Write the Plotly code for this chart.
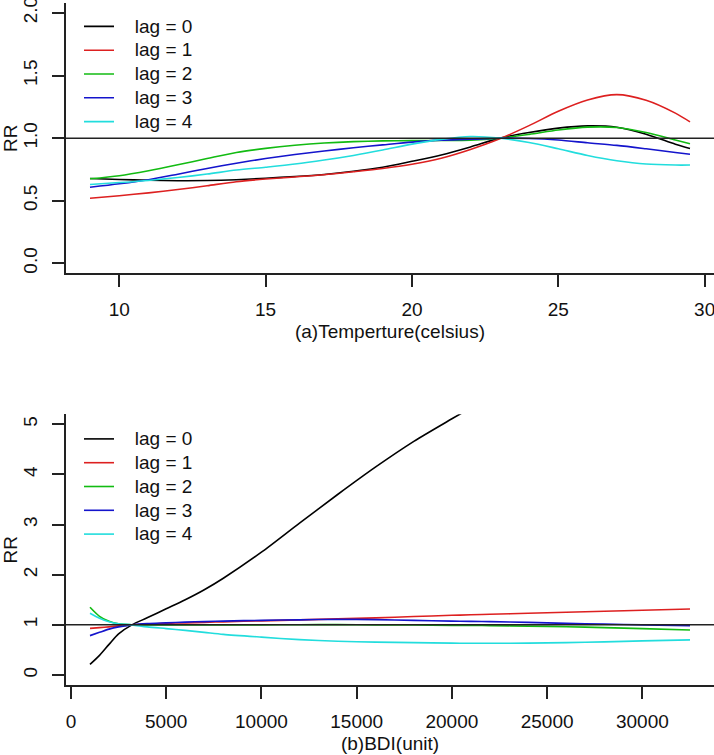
import plotly.graph_objects as go
from plotly.subplots import make_subplots

# ---------------- data ----------------
lag_names = ["lag = 0", "lag = 1", "lag = 2", "lag = 3", "lag = 4"]
lag_colors = ["#000000", "#DD2020", "#12BB12", "#1414CC", "#22DDDD"]

temp = [9, 10, 11, 12, 13, 14, 15, 16, 17, 18, 19, 20, 21, 22, 23, 24, 25, 26, 27, 28, 29, 29.5]
temp_lag0 = [0.678, 0.670, 0.664, 0.660, 0.661, 0.668, 0.680, 0.693, 0.710, 0.735, 0.767, 0.815,
             0.866, 0.930, 1.0, 1.045, 1.080, 1.098, 1.087, 1.032, 0.952, 0.918]
temp_lag1 = [0.520, 0.540, 0.563, 0.589, 0.620, 0.652, 0.673, 0.690, 0.708, 0.732, 0.758, 0.792,
             0.840, 0.910, 0.995, 1.100, 1.215, 1.305, 1.348, 1.303, 1.200, 1.130]
temp_lag2 = [0.675, 0.700, 0.740, 0.787, 0.837, 0.885, 0.918, 0.943, 0.961, 0.972, 0.978, 0.980,
             0.981, 0.984, 1.0, 1.030, 1.065, 1.088, 1.085, 1.045, 0.985, 0.955]
temp_lag3 = [0.607, 0.635, 0.668, 0.712, 0.758, 0.800, 0.837, 0.869, 0.897, 0.923, 0.946, 0.968,
             0.984, 0.991, 1.0, 0.997, 0.985, 0.963, 0.942, 0.915, 0.886, 0.872]
temp_lag4 = [0.630, 0.645, 0.662, 0.685, 0.713, 0.745, 0.768, 0.793, 0.825, 0.862, 0.905, 0.952,
             0.990, 1.013, 1.0, 0.965, 0.915, 0.862, 0.820, 0.793, 0.785, 0.785]

bdi = [1000, 1500, 2000, 2500, 3200, 4000, 5000, 6000, 7000, 8000, 10000, 12000, 14000, 16000,
       18000, 20000, 21000, 22000, 24000, 26000, 28000, 30000, 32500]
bdi_lag0 = [0.21, 0.39, 0.61, 0.82, 1.0, 1.14, 1.32, 1.50, 1.70, 1.93, 2.45, 3.03, 3.60, 4.15,
            4.66, 5.11, 5.33, None, None, None, None, None, None]
bdi_lag1 = [0.93, 0.945, 0.96, 0.98, 1.0, 1.015, 1.03, 1.04, 1.05, 1.06, 1.08, 1.10, 1.12, 1.14,
            1.165, 1.19, 1.20, 1.21, 1.23, 1.25, 1.27, 1.29, 1.317]
bdi_lag2 = [1.35, 1.17, 1.07, 1.02, 1.0, 1.0, 1.0, 1.0, 1.0, 1.0, 1.0, 1.003, 1.004, 1.0,
            0.996, 0.99, 0.988, 0.985, 0.975, 0.962, 0.945, 0.925, 0.898]
bdi_lag3 = [0.785, 0.85, 0.915, 0.96, 1.0, 1.025, 1.04, 1.055, 1.065, 1.075, 1.09, 1.10, 1.11, 1.105,
            1.09, 1.075, 1.07, 1.065, 1.05, 1.03, 1.015, 1.0, 0.985]
bdi_lag4 = [1.23, 1.13, 1.06, 1.02, 1.0, 0.96, 0.925, 0.89, 0.85, 0.81, 0.755, 0.705, 0.672, 0.655,
            0.645, 0.635, 0.633, 0.632, 0.635, 0.645, 0.66, 0.68, 0.70]

temp_ticks = [10, 15, 20, 25, 30]
temp_rr_ticks = [0.0, 0.5, 1.0, 1.5, 2.0]
bdi_ticks = [0, 5000, 10000, 15000, 20000, 25000, 30000]
bdi_rr_ticks = [0, 1, 2, 3, 4, 5]

FONT = "Liberation Sans, Arial, sans-serif"
FS = 19
INK = "#111111"


def legend_label(name):
    # larger visible text while keeping R-like compact row spacing
    return '<span style="font-size:%dpx">&nbsp;&nbsp;&nbsp;%s</span>' % (FS, name)


fig = make_subplots(rows=2, cols=1, vertical_spacing=0.2)

temp_series = [temp_lag0, temp_lag1, temp_lag2, temp_lag3, temp_lag4]
bdi_series = [bdi_lag0, bdi_lag1, bdi_lag2, bdi_lag3, bdi_lag4]

for name, col, ys in zip(lag_names, lag_colors, temp_series):
    fig.add_trace(go.Scatter(x=temp, y=ys, mode="lines", name=legend_label(name),
                             legend="legend",
                             line=dict(color=col, width=1.6, shape="spline", smoothing=0.8)),
                  row=1, col=1)
for name, col, ys in zip(lag_names, lag_colors, bdi_series):
    fig.add_trace(go.Scatter(x=bdi, y=ys, mode="lines", name=legend_label(name),
                             legend="legend2", connectgaps=False,
                             line=dict(color=col, width=1.6, shape="spline", smoothing=0.8)),
                  row=2, col=1)

# reference lines at RR = 1
fig.add_shape(type="line", xref="x domain", yref="y", x0=0, x1=1, y0=1, y1=1,
              line=dict(color="#222222", width=1.5), layer="above")
fig.add_shape(type="line", xref="x2 domain", yref="y2", x0=0, x1=1, y0=1, y1=1,
              line=dict(color="#222222", width=1.5), layer="above")

axis_common = dict(showgrid=False, zeroline=False, showline=True, linecolor="#222222",
                   linewidth=1.5, ticks="outside", ticklen=12, tickwidth=1.5,
                   tickcolor="#222222", mirror=False, ticklabeloverflow="allow",
                   tickfont=dict(family=FONT, size=FS, color=INK))

fig.update_xaxes(**axis_common)
fig.update_yaxes(**axis_common)

title_font = dict(family=FONT, size=FS, color=INK)
fig.update_xaxes(row=1, col=1, range=[8.18, 30.32], tickvals=temp_ticks,
                 ticklabelstandoff=6,
                 title=dict(text="(a)Temperture(celsius)", standoff=6, font=title_font))
fig.update_yaxes(row=1, col=1, range=[-0.08, 2.08], tickvals=temp_rr_ticks, tickformat=".1f",
                 tickangle=-90, ticklabelstandoff=8,
                 title=dict(text="RR", standoff=0, font=title_font))
fig.update_xaxes(row=2, col=1, range=[-260, 33760], tickvals=bdi_ticks, tickformat="d",
                 ticklabelstandoff=6,
                 title=dict(text="(b)BDI(unit)", standoff=6, font=title_font))
fig.update_yaxes(row=2, col=1, range=[-0.2, 5.2], tickvals=bdi_rr_ticks,
                 tickangle=-90, ticklabelstandoff=8,
                 title=dict(text="RR", standoff=0, font=title_font))

T, B = 3, 70
H = 755 - T - B
LEG_X = (79 - 66) / 648
fig.update_layout(
    width=714, height=755,
    margin=dict(l=66, r=0, t=T, b=B, autoexpand=False),
    paper_bgcolor="white", plot_bgcolor="white",
    font=dict(family=FONT, size=FS, color=INK),
    xaxis=dict(domain=[0, 1]), xaxis2=dict(domain=[0, 1]),
    yaxis=dict(domain=[(685 - 273.3) / H, 1.0]),
    yaxis2=dict(domain=[0.0, (685 - 414.3) / H]),
    legend=dict(x=LEG_X, y=(685 - 9.5) / H, xanchor="left", yanchor="top",
                bgcolor="rgba(0,0,0,0)", borderwidth=0, tracegroupgap=0,
                font=dict(family=FONT, size=16, color=INK)),
    legend2=dict(x=LEG_X, y=(685 - 422) / H, xanchor="left", yanchor="top",
                 bgcolor="rgba(0,0,0,0)", borderwidth=0, tracegroupgap=0,
                 font=dict(family=FONT, size=16, color=INK)),
    showlegend=True,
)

fig.write_html("out.html", config={"displayModeBar": False},
               post_script="document.body.style.margin='0px';")
